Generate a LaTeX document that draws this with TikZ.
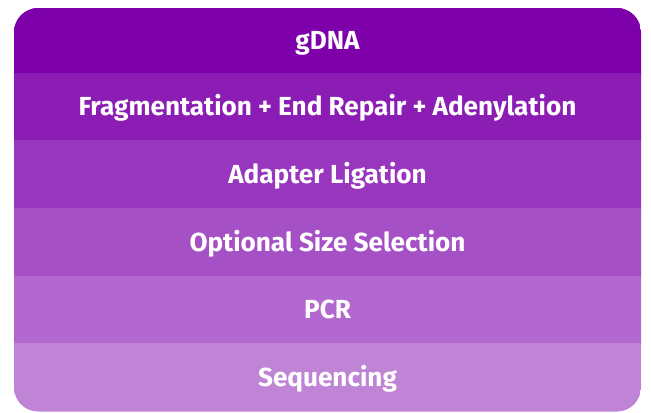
\documentclass[tikz,border=0pt]{standalone}
\usepackage{fontspec}
\setmainfont{Fira Sans}
\usepackage{xcolor}
\usetikzlibrary{positioning}
\definecolor{stepA}{RGB}{126, 0, 171}
\definecolor{stepB}{RGB}{139, 28, 180}
\definecolor{stepC}{RGB}{152, 54, 189}
\definecolor{stepD}{RGB}{165, 80, 197}
\definecolor{stepE}{RGB}{178, 104, 206}
\definecolor{stepF}{RGB}{192, 132, 214}

\begin{document}
\begin{tikzpicture}[
  x=0.75pt, y=-0.75pt,
  font=\fontsize{19.6}{22}\selectfont\bfseries,
  band/.style={rectangle, fill=#1, draw=#1, inner sep=0pt, outer sep=0pt,
    minimum width=470.25pt, minimum height=50.7pt,
    text=white, text height=13.5pt, text depth=0pt, anchor=north},
]
  \useasboundingbox (0,0) rectangle (651,412);

  \begin{scope}
    \clip[rounded corners=18pt] (14,8) rectangle (641,411.5);

    % workflow steps, top to bottom
    \node[band=stepA, minimum height=48.75pt] (gdna) at (327.5,8) {gDNA};
    \node[band=stepB, below=0pt of gdna] (frag) {Fragmentation + End Repair + Adenylation};
    \node[band=stepC, below=0pt of frag] (ligation) {Adapter Ligation};
    \node[band=stepD, below=0pt of ligation] (sizesel) {Optional Size Selection};
    \node[band=stepE, below=0pt of sizesel] (pcr) {PCR};
    \node[band=stepF, below=0pt of pcr] (seq) {Sequencing};
  \end{scope}

\end{tikzpicture}
\end{document}
